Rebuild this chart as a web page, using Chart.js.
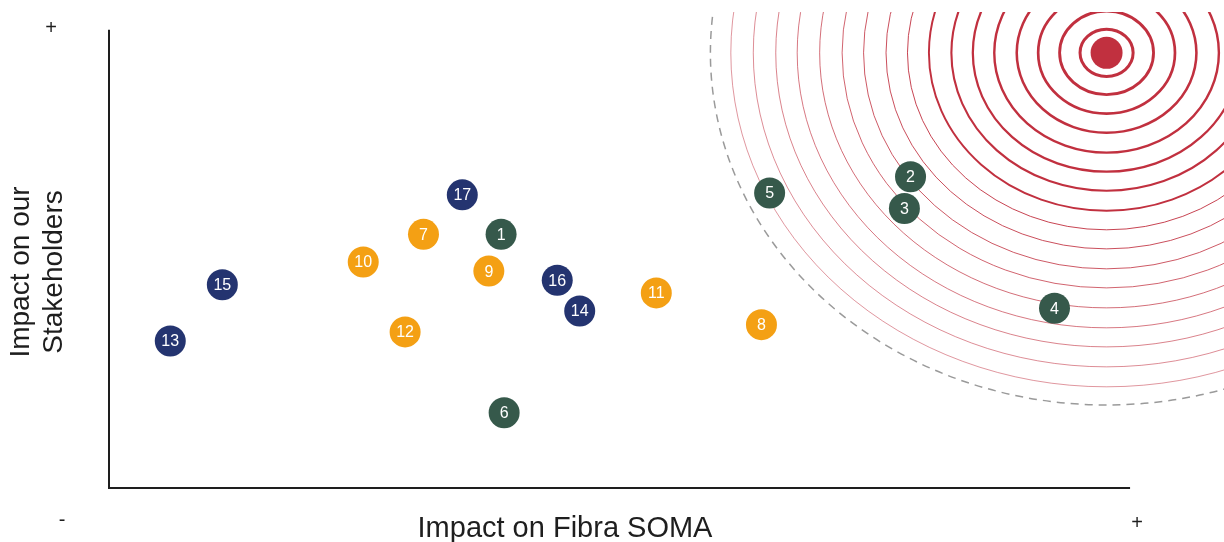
<!DOCTYPE html>
<html>
<head>
<meta charset="utf-8">
<script src="https://cdn.jsdelivr.net/npm/chart.js@4/dist/chart.umd.min.js"></script>
<style>
  html, body { margin: 0; padding: 0; background: #fff; }
  #wrap { position: relative; width: 1224px; height: 542px; }
</style>
</head>
<body>
<div id="wrap"><canvas id="matrix"></canvas></div>
<script>
'use strict';

// --- data (axis units: x 0..100, y 0..50.5) ---
const GREEN_IDS = ['1', '2', '3', '4', '5', '6'];
const GREEN_X = [38.4, 78.5, 77.9, 92.6, 64.7, 38.7];
const GREEN_Y = [27.95, 34.3, 30.8, 19.8, 32.5, 8.3];

const ORANGE_IDS = ['7', '8', '9', '10', '11', '12'];
const ORANGE_X = [30.8, 63.9, 37.2, 24.9, 53.6, 29.0];
const ORANGE_Y = [27.95, 18.0, 23.9, 24.9, 21.5, 17.2];

const NAVY_IDS = ['13', '14', '15', '16', '17'];
const NAVY_X = [6.0, 46.1, 11.1, 43.9, 34.6];
const NAVY_Y = [16.2, 19.5, 22.4, 22.9, 32.3];

const TARGET = { x: 97.7, y: 47.95 };
const RING_RADII = [2.6, 4.6, 6.7, 8.8, 11.0, 13.1, 15.2, 17.4, 19.5, 21.6, 23.8, 25.9, 28.1, 30.3, 32.4, 34.6, 36.8];
const OUTER_RING = 38.8;

const X_AXIS_END = 100;
const Y_AXIS_END = 50.5;

const X_TITLE = 'Impact on Fibra SOMA';
const Y_TITLE = ['Impact on our', 'Stakeholders'];

const RED = '#c1303f';
const toPts = (xs, ys) => xs.map((x, i) => ({ x, y: ys[i] }));

// rings around the target, drawn under the dots
const ringsPlugin = {
  id: 'rings',
  beforeDatasetsDraw(chart) {
    const { ctx, chartArea: a, scales: { x, y } } = chart;
    const cx = x.getPixelForValue(TARGET.x);
    const cy = y.getPixelForValue(TARGET.y);
    const rxOf = r => x.getPixelForValue(TARGET.x + r) - cx;
    const ryOf = r => cy - y.getPixelForValue(TARGET.y + r);
    ctx.save();
    ctx.beginPath();
    ctx.rect(a.left - 200, a.top, a.right - a.left + 400, a.bottom - a.top + 100);
    ctx.clip();
    RING_RADII.forEach((r, i) => {
      ctx.beginPath();
      ctx.ellipse(cx, cy, rxOf(r), ryOf(r), 0, 0, Math.PI * 2);
      ctx.lineWidth = i < 8 ? 3 - i * 0.15 : 1;
      ctx.strokeStyle = RED;
      ctx.globalAlpha = i < 8 ? 1 : Math.max(0.5, 0.9 - (i - 8) * 0.05);
      ctx.stroke();
    });
    ctx.globalAlpha = 1;
    ctx.beginPath();
    ctx.ellipse(cx, cy, rxOf(OUTER_RING), ryOf(OUTER_RING), 0, 0, Math.PI * 2);
    ctx.setLineDash([8, 6]);
    ctx.lineWidth = 1.5;
    ctx.strokeStyle = '#9a9a9a';
    ctx.stroke();
    ctx.restore();
  },
};

// axes lines, end signs and titles
const axesPlugin = {
  id: 'axesLines',
  afterDraw(chart) {
    const { ctx, scales: { x, y } } = chart;
    const x0 = x.getPixelForValue(0), x1 = x.getPixelForValue(X_AXIS_END);
    const y0 = y.getPixelForValue(0), y1 = y.getPixelForValue(Y_AXIS_END);
    ctx.save();
    ctx.strokeStyle = '#1e1e1e';
    ctx.lineWidth = 2;
    ctx.beginPath();
    ctx.moveTo(x0, y1);
    ctx.lineTo(x0, y0);
    ctx.lineTo(x1, y0);
    ctx.stroke();

    ctx.fillStyle = '#1e1e1e';
    ctx.textAlign = 'center';
    ctx.textBaseline = 'middle';
    ctx.font = '20px "Liberation Sans", Arial, sans-serif';
    ctx.fillText('+', 51, 28);
    ctx.fillText('-', 62, 520);
    ctx.fillText('+', 1137, 523);

    ctx.textBaseline = 'alphabetic';
    ctx.font = '29px "Liberation Sans", Arial, sans-serif';
    ctx.fillText(X_TITLE, 565, 537);

    ctx.translate(37, 272);
    ctx.rotate(-Math.PI / 2);
    ctx.textBaseline = 'middle';
    ctx.font = '28px "Liberation Sans", Arial, sans-serif';
    ctx.fillText(Y_TITLE[0], 0, -16);
    ctx.fillText(Y_TITLE[1], 0, 17);
    ctx.restore();
  },
};

// numbers inside the dots
const labelPlugin = {
  id: 'dotLabels',
  afterDatasetsDraw(chart) {
    const { ctx } = chart;
    ctx.save();
    ctx.fillStyle = '#ffffff';
    ctx.textAlign = 'center';
    ctx.textBaseline = 'middle';
    ctx.font = '16px "Liberation Sans", Arial, sans-serif';
    chart.data.datasets.forEach((ds, di) => {
      if (!ds.ids) return;
      chart.getDatasetMeta(di).data.forEach((pt, i) => {
        ctx.fillText(ds.ids[i], pt.x, pt.y + 1);
      });
    });
    ctx.restore();
  },
};

const dotStyle = color => ({
  backgroundColor: color,
  borderColor: color,
  borderWidth: 0,
  pointRadius: 15.5,
  pointHoverRadius: 15.5,
  clip: false,
});

new Chart(document.getElementById('matrix').getContext('2d'), {
  type: 'scatter',
  data: {
    datasets: [
      { label: 'Target', data: [TARGET], ...dotStyle(RED), pointRadius: 16 },
      { label: 'Green', ids: GREEN_IDS, data: toPts(GREEN_X, GREEN_Y), ...dotStyle('#36594b') },
      { label: 'Orange', ids: ORANGE_IDS, data: toPts(ORANGE_X, ORANGE_Y), ...dotStyle('#f4a014') },
      { label: 'Navy', ids: NAVY_IDS, data: toPts(NAVY_X, NAVY_Y), ...dotStyle('#243470') },
    ],
  },
  options: {
    responsive: true,
    maintainAspectRatio: false,
    animation: false,
    layout: { autoPadding: false, padding: { left: 109, right: 0, top: 12, bottom: 54 } },
    plugins: { legend: { display: false }, tooltip: { enabled: false } },
    scales: {
      x: { type: 'linear', min: 0, max: 109.2, display: false },
      y: { type: 'linear', min: 0, max: 52.45, display: false },
    },
  },
  plugins: [ringsPlugin, labelPlugin, axesPlugin],
});
</script>
</body>
</html>
